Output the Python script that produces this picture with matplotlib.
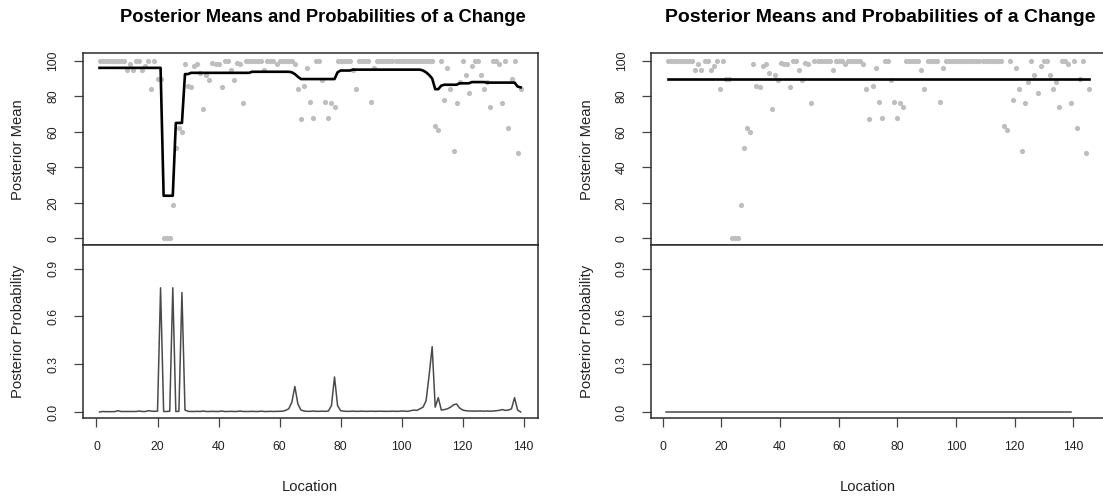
import numpy as np
import matplotlib
matplotlib.use("Agg")
import matplotlib.pyplot as plt

plt.rcParams['font.family'] = ['Liberation Sans', 'DejaVu Sans']

# ---------------- data ----------------
location = np.arange(1, 140)

observed = [100, 100, 100, 100, 100, 100, 100, 100, 100, 95,
            98, 95, 100, 100, 95, 97, 100, 84, 100, 90,
            90, 0, 0, 0, 19, 51, 62, 60, 98, 86,
            85, 97, 98, 93, 73, 92, 89, 99, 98, 98,
            85, 100, 100, 95, 89, 99, 98, 76, 100, 100,
            100, 100, 100, 100, 95, 100, 100, 100, 98, 100,
            100, 100, 100, 100, 98, 84, 67, 86, 96, 77,
            68, 100, 100, 89, 77, 68, 76, 74, 100, 100,
            100, 100, 100, 95, 84, 100, 100, 100, 100, 77,
            96, 100, 100, 100, 100, 100, 100, 100, 100, 100,
            100, 100, 100, 100, 100, 100, 100, 100, 100, 100,
            63, 61, 100, 78, 96, 84, 49, 76, 88, 100,
            92, 82, 97, 100, 100, 92, 84, 88, 74, 100,
            100, 98, 76, 100, 62, 90, 100, 48, 84]

post_mean_left = ([96.0] * 21 + [24.0] * 4 + [65.0] * 3 + [92.5] * 2 +
                  [93.2] * 20 + [93.8] * 13 +
                  [93.5, 92.5, 91.0] + [89.7] * 12 +
                  [93.5] + [94.5] * 4 + [95.0] * 23 +
                  [94.5, 93.5, 92.0, 90.0, 84.0, 84.0, 86.0] +
                  [86.5] * 5 + [87.3] * 4 + [88.0] * 5 + [87.7] * 10 +
                  [85.5, 85.0])

post_prob_left = [0.000, 0.003, 0.002, 0.002, 0.002, 0.002, 0.008, 0.003, 0.003, 0.003,
                  0.003, 0.003, 0.003, 0.006, 0.003, 0.003, 0.008, 0.005, 0.004, 0.005,
                  0.780, 0.003, 0.003, 0.005, 0.780, 0.003, 0.004, 0.750, 0.012, 0.004,
                  0.003, 0.003, 0.004, 0.003, 0.006, 0.003, 0.003, 0.004, 0.003, 0.003,
                  0.006, 0.003, 0.003, 0.004, 0.003, 0.003, 0.006, 0.003, 0.003, 0.003,
                  0.004, 0.003, 0.003, 0.005, 0.003, 0.003, 0.004, 0.003, 0.004, 0.004,
                  0.005, 0.010, 0.020, 0.060, 0.160, 0.050, 0.012, 0.006, 0.004, 0.004,
                  0.006, 0.004, 0.004, 0.005, 0.004, 0.006, 0.040, 0.220, 0.040, 0.008,
                  0.005, 0.004, 0.004, 0.005, 0.004, 0.004, 0.005, 0.004, 0.004, 0.005,
                  0.004, 0.004, 0.005, 0.004, 0.004, 0.004, 0.005, 0.004, 0.004, 0.006,
                  0.005, 0.004, 0.008, 0.012, 0.010, 0.020, 0.030, 0.070, 0.230, 0.410,
                  0.030, 0.090, 0.012, 0.015, 0.020, 0.030, 0.045, 0.050, 0.025, 0.012,
                  0.008, 0.006, 0.006, 0.005, 0.006, 0.006, 0.005, 0.006, 0.005, 0.006,
                  0.008, 0.010, 0.015, 0.010, 0.012, 0.020, 0.090, 0.012, 0.000]

post_mean_right = [89.6] * 139
post_prob_right = [0.0] * 139

title = "Posterior Means and Probabilities of a Change"
x_ticks = [0, 20, 40, 60, 80, 100, 120, 140]
mean_ticks = [0, 20, 40, 60, 80, 100]
prob_ticks = [0.0, 0.3, 0.6, 0.9]

# ---------------- layout ----------------
W, H = 1103, 498
fig = plt.figure(figsize=(W / 100, H / 100), dpi=100)
fig.patch.set_facecolor('white')


def rect(x0, x1, yt, yb):
    return [x0 / W, 1 - yb / H, (x1 - x0) / W, (yb - yt) / H]


SPINE = '#2b2b2b'
TICKLAB = 8.8


def style(ax):
    for s in ax.spines.values():
        s.set_color(SPINE)
        s.set_linewidth(1.1)
    ax.tick_params(direction='out', length=6.2, width=0.9, color='#444444',
                   labelsize=TICKLAB, labelcolor='#222222', pad=10.5)
    for lab in ax.get_yticklabels():
        lab.set_rotation(90)
        lab.set_va('center')


def panel(x0, x1, xlim_top, xlim_bot, pm, pp, title_x, title_fs, ylab_x, loc_x):
    axt = fig.add_axes(rect(x0, x1, 53.3, 245.3))
    axb = fig.add_axes(rect(x0, x1, 245.3, 417.7))
    axt.scatter(location, observed, s=14, color='#bebebe', linewidths=0, zorder=2)
    axt.plot(location, pm, color='black', lw=1.9, zorder=3)
    axt.set_xlim(*xlim_top)
    axt.set_ylim(-3.9, 104.2)
    axt.set_xticks([])
    axt.set_yticks(mean_ticks)
    axt.set_yticklabels([str(v) for v in mean_ticks])
    style(axt)

    axb.plot(location, pp, color='#4a4a4a', lw=1.1, zorder=3)
    axb.set_xlim(*xlim_bot)
    axb.set_ylim(-0.036, 1.047)
    axb.set_xticks(x_ticks)
    axb.set_xticklabels([str(v) for v in x_ticks])
    axb.set_yticks(prob_ticks)
    axb.set_yticklabels([f"{v:.1f}" for v in prob_ticks])
    style(axb)

    fig.text(title_x / W, 1 - 18 / H, title, ha='center', va='center',
             fontsize=title_fs, fontweight='bold', color='black')
    fig.text(ylab_x / W, 1 - 149.5 / H, 'Posterior Mean', rotation=90,
             ha='center', va='center', fontsize=10.6, color='#222222')
    fig.text(ylab_x / W, 1 - 331.5 / H, 'Posterior Probability', rotation=90,
             ha='center', va='center', fontsize=10.6, color='#222222')
    fig.text(loc_x / W, 1 - 487 / H, 'Location', ha='center', va='center',
             fontsize=10.6, color='#222222')


# left chart
panel(82.7, 537.5, (-4.52, 144.52), (-4.52, 144.52),
      post_mean_left, post_prob_left, 323, 13.2, 18.3, 309.7)

# right chart (extends past the right edge of the image)
panel(651.0, 1106.3, (-4.52, 144.52), (-3.98, 151.2),
      post_mean_right, post_prob_right, 880, 14.0, 586.7, 867.5)

fig.savefig('out.png', dpi=100)
